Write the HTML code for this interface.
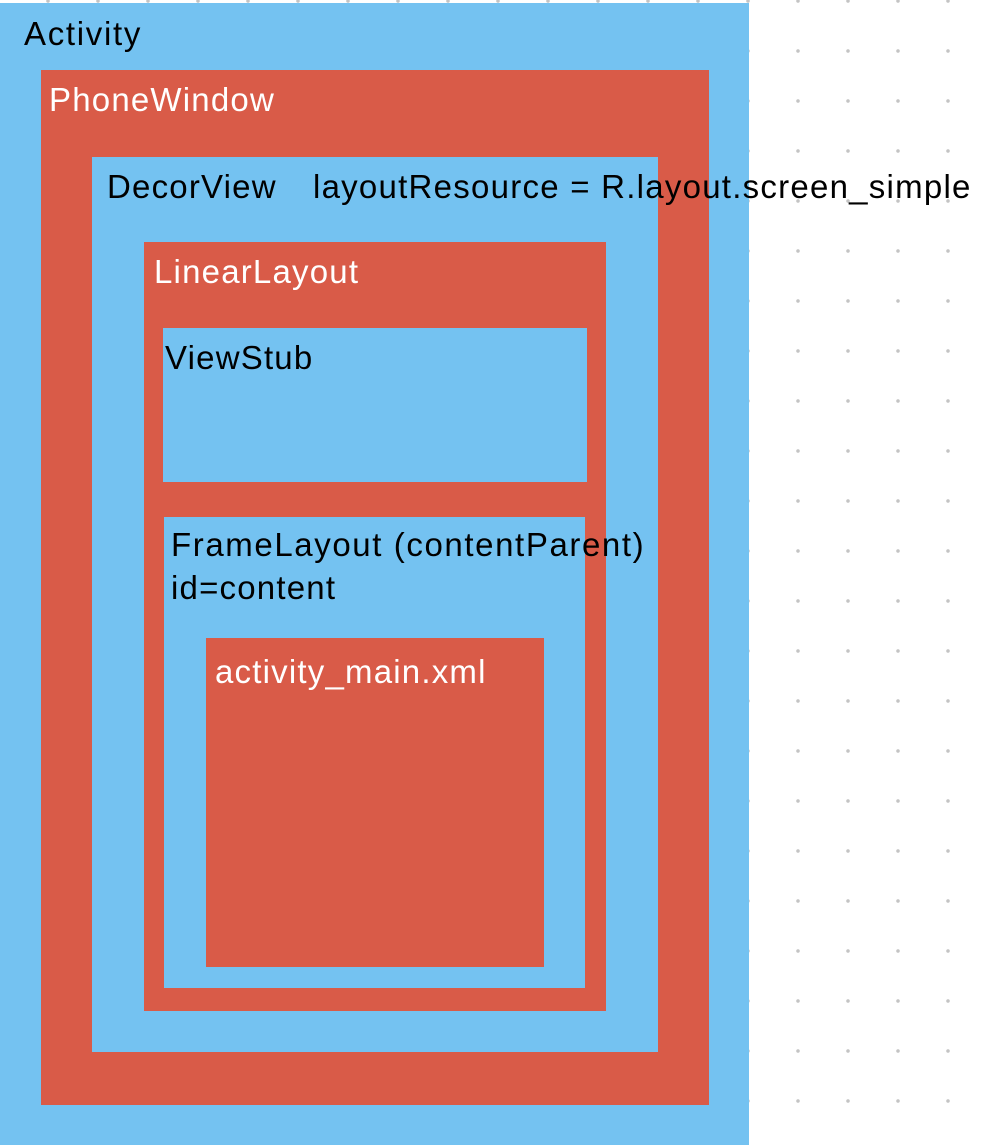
<!DOCTYPE html>
<html><head><style>
html,body{margin:0;padding:0;}
body{width:982px;height:1148px;position:relative;overflow:hidden;background:#fff;
background-image:radial-gradient(circle,#c4c4c4 1.6px,transparent 2px);
background-size:50px 50px;background-position:23px -24px;}
.b{position:absolute;box-sizing:border-box;}
.bl{background:#74C2F1;}
.rd{background:#D95B48;}
.t{position:absolute;font-family:"Liberation Sans",sans-serif;font-size:33px;letter-spacing:1.2px;white-space:nowrap;line-height:1;}
.k{color:#000}.w{color:#fff}
</style></head><body>
<div class="b bl" style="left:0;top:3px;width:749px;height:1142px"></div>
<div class="b rd" style="left:41px;top:70px;width:668px;height:1035px"></div>
<div class="b bl" style="left:92px;top:157px;width:566px;height:895px"></div>
<div class="b rd" style="left:144px;top:242px;width:462px;height:769px"></div>
<div class="b bl" style="left:163px;top:328px;width:424px;height:154px"></div>
<div class="b bl" style="left:164px;top:517px;width:421px;height:471px"></div>
<div class="b rd" style="left:206px;top:638px;width:338px;height:329px"></div>

<div class="t k" style="left:24px;top:17px;letter-spacing:1.7px">Activity</div>
<div class="t w" style="left:49px;top:83px">PhoneWindow</div>
<div class="t k" style="left:107px;top:170px">DecorView</div>
<div class="t k" style="left:313px;top:170px;letter-spacing:1.25px">layoutResource = R.layout.screen_simple</div>
<div class="t w" style="left:154px;top:255px">LinearLayout</div>
<div class="t k" style="left:165px;top:341px">ViewStub</div>
<div class="t k" style="left:171px;top:528px;letter-spacing:1.6px">FrameLayout (contentParent)</div>
<div class="t k" style="left:171px;top:571px">id=content</div>
<div class="t w" style="left:215px;top:655px">activity_main.xml</div>
</body></html>
